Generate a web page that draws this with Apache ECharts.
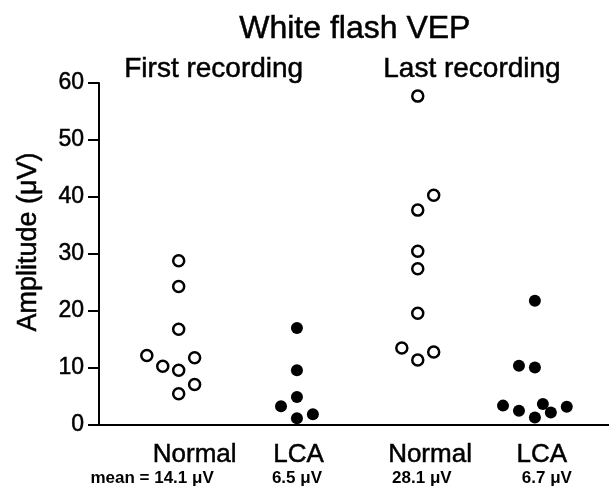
<!DOCTYPE html>
<html>
<head>
<meta charset="utf-8">
<script src="https://cdn.jsdelivr.net/npm/echarts@6/dist/echarts.min.js"></script>
<style>
  html, body { margin: 0; padding: 0; background: #fff; }
  #chart { width: 609px; height: 495px; }
</style>
</head>
<body>
<div id="chart"></div>
<script>
// groups, left to right
const groupNames = ["Normal", "LCA", "Normal", "LCA"];
const groupMeans = ["mean = 14.1 μV", "6.5 μV", "28.1 μV", "6.7 μV"];
const groupCenter = [5, 12.42, 20, 27.35];   // column of the dots, x units
const labelPos = [6, 12.52, 20.77, 27.79];
const meanPos = [3.33, 12.42, 20.26, 28.1];

// amplitude (µV) and sideways offset of each dot
const firstNormal = [28.8, 24.3, 16.8, 12.2, 10.3, 9.6, 11.8, 7.1, 5.5];
const firstNormalOff = [0, 0, 0, -2, -1, 0, 1, 1, 0];
const firstLca = [17.0, 9.6, 4.9, 3.3, 1.2, 1.9];
const firstLcaOff = [0, 0, 0, -1, 0, 1];
const lastNormal = [57.7, 40.3, 37.7, 30.5, 27.4, 19.6, 13.5, 11.4, 12.8];
const lastNormalOff = [0, 1, 0, 0, 0, 0, -1, 0, 1];
const lastLca = [21.8, 10.4, 10.1, 3.4, 2.5, 3.7, 1.3, 2.2, 3.2];
const lastLcaOff = [0, -1, 0, -2, -1, 0.5, 0, 1, 2];

const yTicks = [0, 10, 20, 30, 40, 50, 60];

const FONT = "Liberation Sans, Arial, Helvetica, sans-serif";
// the scanned text is a little heavier than plain Liberation Sans
const ink = { color: "#000", textBorderColor: "#000", textBorderWidth: 0.5 };

const toPoints = (vals, offs, g) => vals.map((v, i) => [groupCenter[g] + offs[i], v]);

const openDot = {
  color: "#fff",
  borderColor: "#000",
  borderWidth: 2.5,
  opacity: 1,
};
const fullDot = { color: "#000", opacity: 1 };

const chart = echarts.init(document.getElementById("chart"));

chart.setOption({
  animation: false,
  backgroundColor: "#fff",
  grid: { left: 99, right: 0, top: 83, bottom: 70 },
  xAxis: [
    {
      type: "value",
      min: 0,
      max: 32,
      splitLine: { show: false },
      axisLine: { show: true, onZero: false, lineStyle: { color: "#000", width: 2 } },
      axisTick: { show: false },
      axisLabel: {
        ...ink,
        customValues: labelPos,
        margin: 17,
        fontFamily: FONT,
        fontSize: 26,
        formatter: (v) => groupNames[labelPos.indexOf(v)] ?? "",
      },
    },
    {
      type: "value",
      position: "bottom",
      min: 0,
      max: 32,
      splitLine: { show: false },
      axisLine: { show: false },
      axisTick: { show: false },
      axisLabel: {
        customValues: meanPos,
        margin: 45,
        fontFamily: FONT,
        fontSize: 17,
        fontWeight: "bold",
        color: "#000",
        formatter: (v) => groupMeans[meanPos.indexOf(v)] ?? "",
      },
    },
  ],
  yAxis: {
    type: "value",
    min: 0,
    max: 60,
    interval: 10,
    name: "Amplitude (μV)",
    nameLocation: "middle",
    nameRotate: 90,
    nameGap: 57,
    nameTextStyle: { ...ink, fontFamily: FONT, fontSize: 27, padding: [0, 0, 0, 24] },
    splitLine: { show: false },
    axisLine: { show: true, lineStyle: { color: "#000", width: 2 } },
    axisTick: { show: true, length: 11, lineStyle: { color: "#000", width: 2 } },
    axisLabel: {
      ...ink,
      margin: 15,
      fontFamily: FONT,
      fontSize: 23,
      formatter: (v) => (yTicks.includes(v) ? String(v) : ""),
    },
  },
  graphic: [
    {
      type: "text",
      left: 239,
      top: 13,
      style: { text: "White flash VEP", font: "32px " + FONT, fill: "#000", stroke: "#000", lineWidth: 0.5 },
    },
    {
      type: "text",
      left: 124,
      top: 55,
      style: { text: "First recording", font: "28px " + FONT, fill: "#000", stroke: "#000", lineWidth: 0.5 },
    },
    {
      type: "text",
      left: 383,
      top: 55,
      style: { text: "Last recording", font: "28px " + FONT, fill: "#000", stroke: "#000", lineWidth: 0.5 },
    },
  ],
  series: [
    {
      type: "scatter",
      symbol: "circle",
      symbolSize: 11,
      itemStyle: openDot,
      data: toPoints(firstNormal, firstNormalOff, 0),
    },
    {
      type: "scatter",
      symbol: "circle",
      symbolSize: 12,
      itemStyle: fullDot,
      data: toPoints(firstLca, firstLcaOff, 1),
    },
    {
      type: "scatter",
      symbol: "circle",
      symbolSize: 11,
      itemStyle: openDot,
      data: toPoints(lastNormal, lastNormalOff, 2),
    },
    {
      type: "scatter",
      symbol: "circle",
      symbolSize: 12,
      itemStyle: fullDot,
      data: toPoints(lastLca, lastLcaOff, 3),
    },
  ],
});
</script>
</body>
</html>
